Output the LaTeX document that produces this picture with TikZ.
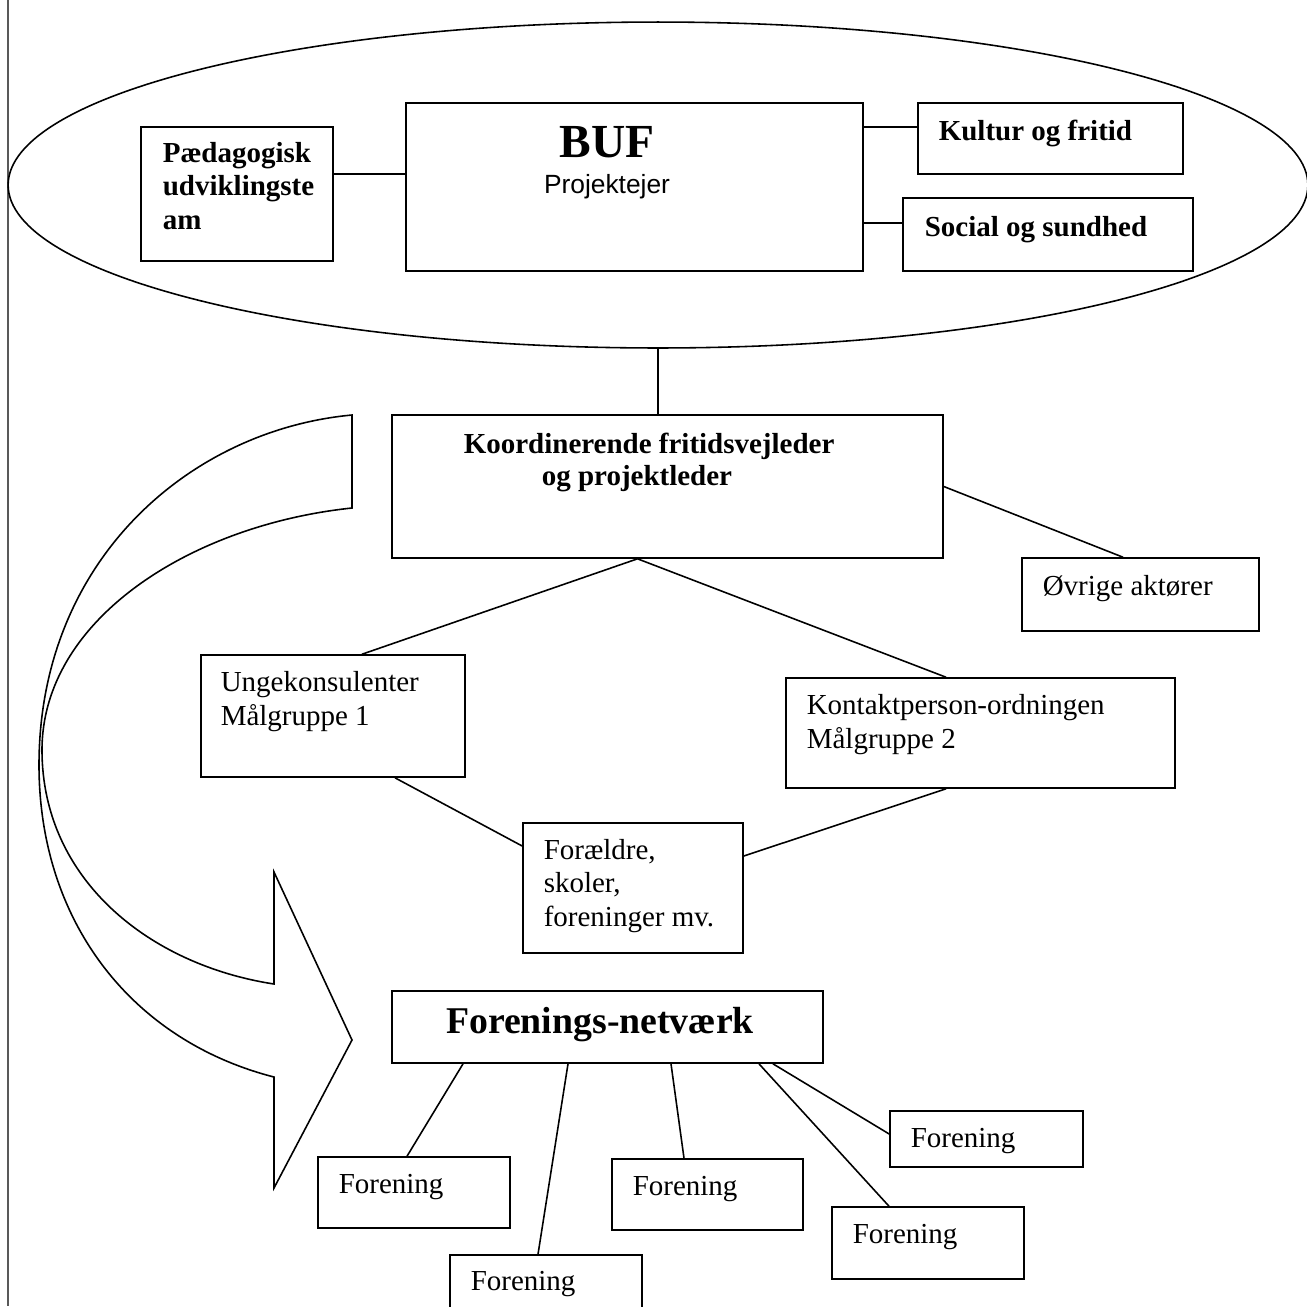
\documentclass[tikz,border=0pt]{standalone}
\usepackage{fontspec}
\setmainfont{Liberation Serif}
\newfontfamily\arialfont{Liberation Sans}
\usetikzlibrary{shapes.geometric,fit}

\tikzset{
  boks/.style={draw, line width=0.9pt, inner sep=0pt},
  tekst/.style={anchor=base west, inner sep=0pt, align=left, font=\fontsize{16.5}{18.8}\selectfont},
  fed/.style={tekst, font=\fontsize{16.5}{18.8}\selectfont\bfseries},
  titel/.style={anchor=base, inner sep=0pt, font=\fontsize{21.5}{24}\selectfont\bfseries},
}

\begin{document}
\begin{tikzpicture}[x=0.02cm, y=-0.02cm, line width=0.9pt]
\useasboundingbox (0,0) rectangle (1307,1306);

% venstre kant
\draw[line width=0.8pt, black!65] (8,0) -- (8,1306);

% ellipsen med BUF
\node[draw, ellipse, minimum width=26cm, minimum height=6.52cm, inner sep=0pt] (ramme) at (658,185) {};

% base = sidste linje
\node[boks, fit={(141,127) (333,261)}] (paed) {};
\node[fed] (paedtxt) at (162,229) {Pædagogisk\\udviklingste\\am};
\node[boks, fit={(406,103) (863,271)}] (buf) {};
\node[titel, font=\fontsize{27}{30}\selectfont\bfseries] (buftxt) at (607,157) {BUF};
\node[titel, font=\arialfont\fontsize{15}{18}\selectfont] (bufsub) at (607,193) {Projektejer};
\node[boks, fit={(918,103) (1183,174)}] (kultur) {};
\node[fed] (kulturtxt) at (938,140) {Kultur og fritid};
\node[boks, fit={(903,198) (1193,271)}] (social) {};
\node[fed] (socialtxt) at (924,236) {Social og sundhed};

\coordinate (paedpkt) at ([yshift=0.4cm]paed.east);
\draw (paedpkt) -- (paedpkt -| buf.west);
\coordinate (kulturpkt) at ([yshift=0.23cm]kultur.west);
\draw (kulturpkt -| buf.east) -- (kulturpkt);
\coordinate (socialpkt) at ([yshift=0.23cm]social.west);
\draw (socialpkt -| buf.east) -- (socialpkt);

% koordinator
\node[boks, fit={(392,415) (943,558)}] (koord) {};
\node[fed] (koordtxt) at (463,453) {Koordinerende fritidsvejleder};
\node[fed] (koordtxtb) at (541,485) {og projektleder};
\draw (ramme.south) -- (ramme.south |- koord.north);

\node[boks, fit={(1022,558) (1259,631)}] (ovrige) {};
\node[tekst] (ovrigetxt) at (1042,595) {Øvrige aktører};
\draw (koord.east) -- ([xshift=-0.35cm]ovrige.north);

\node[boks, fit={(201,655) (465,777)}] (unge) {};
\node[tekst] (ungetxt) at (220,725) {Ungekonsulenter\\Målgruppe 1};
\node[boks, fit={(786,678) (1175,788)}] (kontakt) {};
\node[tekst] (kontakttxt) at (806,748) {Kontaktperson-ordningen\\Målgruppe 2};
\node[boks, fit={(523,823) (743,953)}] (foraeldre) {};
\node[tekst] (foraeldretxt) at (543,926) {Forældre,\\skoler,\\foreninger mv.};

\coordinate (koordbund) at ([xshift=-0.6cm]koord.south);
\draw ([xshift=0.58cm]unge.north) -- (koordbund) -- ([xshift=-0.69cm]kontakt.north);
\draw ([xshift=1.24cm]unge.south) -- ([yshift=0.84cm]foraeldre.west);
\draw ([xshift=-0.69cm]kontakt.south) -- ([yshift=0.64cm]foraeldre.east);

% den buede pil
\draw (352,415) .. controls (190,430) and (39,560) .. (39,765)
  .. controls (39,920) and (130,1040) .. (274,1077)
  -- (274,1188) -- (352,1040) -- (274,872) -- (274,984)
  .. controls (150,965) and (42,880) .. (42,750)
  .. controls (42,620) and (190,525) .. (352,508) -- cycle;

% netvaerket
\node[boks, fit={(392,991) (823,1063)}] (netvaerk) {};
\node[titel] (netvaerktxt) at (600,1033) {Forenings-netværk};

\node[boks, fit={(318,1157) (510,1228)}] (foren1) {};
\node[tekst] (foren1txt) at (338,1193) {Forening};
\node[boks, fit={(450,1255) (642,1330)}] (foren2) {};
\node[tekst] (foren2txt) at (470,1290) {Forening};
\node[boks, fit={(612,1159) (803,1230)}] (foren3) {};
\node[tekst] (foren3txt) at (632,1195) {Forening};
\node[boks, fit={(890,1111) (1083,1167)}] (foren4) {};
\node[tekst] (foren4txt) at (910,1147) {Forening};
\node[boks, fit={(832,1207) (1024,1279)}] (foren5) {};
\node[tekst] (foren5txt) at (852,1243) {Forening};

\draw ([xshift=-2.89cm]netvaerk.south) -- ([xshift=-0.14cm]foren1.north);
\draw ([xshift=-0.79cm]netvaerk.south) -- ([xshift=-0.16cm]foren2.north);
\draw ([xshift=1.27cm]netvaerk.south) -- ([xshift=-0.47cm]foren3.north);
\draw ([xshift=3.31cm]netvaerk.south) -- ([yshift=0.1cm]foren4.west);
\draw ([xshift=3.03cm]netvaerk.south) -- ([xshift=-0.78cm]foren5.north);

\end{tikzpicture}
\end{document}
